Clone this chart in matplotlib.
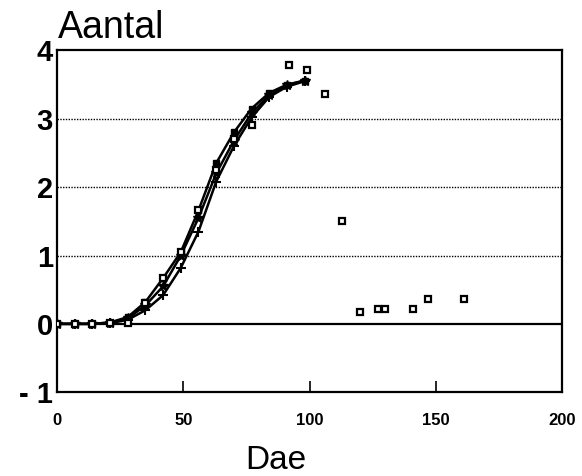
import matplotlib
matplotlib.use("Agg")
import matplotlib.pyplot as plt

# weekly simulation days and three simulated curves
days = [0, 7, 14, 21, 28, 35, 42, 49, 56, 63, 70, 77, 84, 91, 98]
sim_a = [0, 0, 0, 0.02, 0.10, 0.32, 0.67, 1.05, 1.66, 2.35, 2.80, 3.15, 3.38, 3.50, 3.56]
sim_b = [0, 0, 0, 0.02, 0.08, 0.27, 0.55, 1.00, 1.55, 2.20, 2.68, 3.08, 3.35, 3.49, 3.56]
sim_c = [0, 0, 0, 0.01, 0.06, 0.20, 0.42, 0.82, 1.35, 2.08, 2.60, 3.02, 3.32, 3.47, 3.55]

# observed counts
obs_days = [0, 7, 14, 21, 28, 35, 42, 49, 56, 63, 70, 77, 92, 99, 106, 113, 120, 127, 130, 141, 147, 161]
obs_vals = [0, 0, 0, 0.02, 0.02, 0.30, 0.67, 1.05, 1.66, 2.25, 2.70, 2.91, 3.79, 3.71, 3.36,
            1.50, 0.17, 0.22, 0.22, 0.22, 0.36, 0.36]

y_ticks = [-1, 0, 1, 2, 3, 4]
y_labels = ["- 1", "0", "1", "2", "3", "4"]
x_ticks = [0, 50, 100, 150, 200]

plt.rcParams['font.family'] = ['Liberation Sans', 'DejaVu Sans']

fig = plt.figure(figsize=(5.82, 4.76), dpi=100)
ax = fig.add_axes([0.098, 0.176, 0.868, 0.718])

# reference lines
for yv in [1, 2, 3]:
    ax.axhline(yv, color='black', linestyle=(0, (1, 1)), linewidth=1.0, zorder=1)
ax.axhline(0, color='black', linewidth=1.6, zorder=1)

ax.plot(days, sim_a, color='black', linewidth=1.8, marker='s', markersize=4,
        markerfacecolor='black', zorder=3)
ax.plot(days, sim_b, color='black', linewidth=1.8, marker='*', markersize=7, zorder=3)
ax.plot(days, sim_c, color='black', linewidth=1.8, marker='+', markersize=7,
        markeredgewidth=1.5, zorder=3)
ax.plot(obs_days, obs_vals, linestyle='none', marker='s', markersize=5,
        markerfacecolor='white', markeredgecolor='black', markeredgewidth=1.6, zorder=4)

ax.set_xlim(0, 200)
ax.set_ylim(-1, 4)
ax.set_xticks(x_ticks)
ax.set_xticklabels([str(t) for t in x_ticks], fontsize=12, fontweight='bold')
ax.set_yticks(y_ticks)
ax.set_yticklabels(y_labels, fontsize=21, fontweight='bold')
ax.tick_params(axis='x', direction='in', length=8, width=1.2, pad=15)
ax.tick_params(axis='y', length=0, pad=3)

for sp in ax.spines.values():
    sp.set_linewidth(1.6)

fig.text(0.474, 0.015, "Dae", fontsize=24, ha='center', va='baseline')
fig.text(0.1, 0.92, "Aantal", fontsize=27, ha='left', va='baseline')

fig.savefig("out.png", dpi=100)
